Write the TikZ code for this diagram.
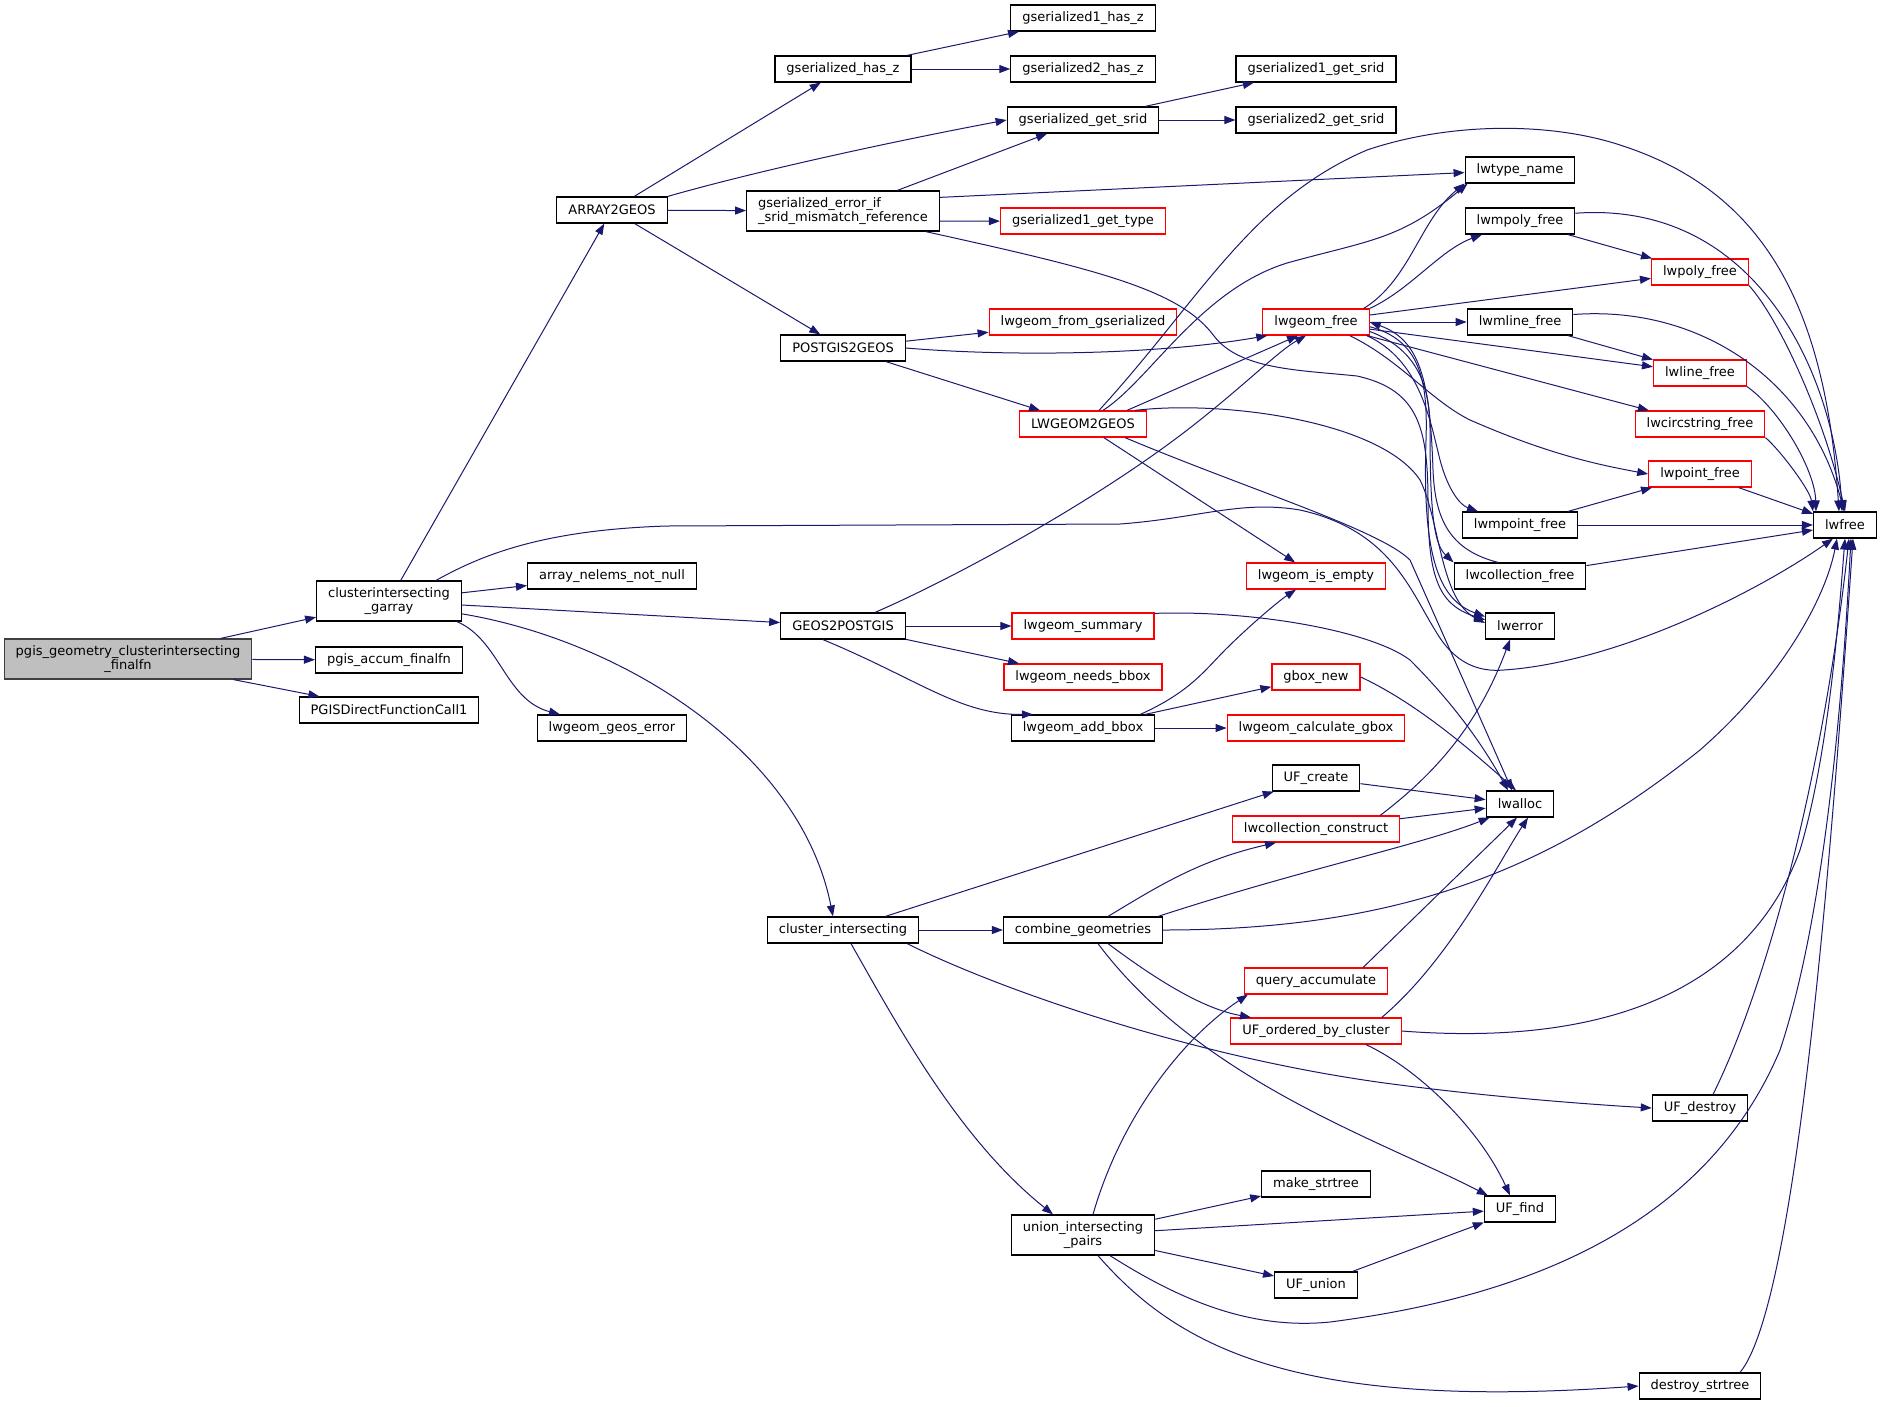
\documentclass[tikz,border=0pt]{standalone}
\usepackage{fontspec}
\setmainfont{DejaVu Sans}
\usepackage{tikz}
\usetikzlibrary{arrows.meta}
\definecolor{edgeblue}{RGB}{25,25,112}
\definecolor{rootgray}{RGB}{191,191,191}
\definecolor{rootline}{RGB}{64,64,64}
\definecolor{fnred}{RGB}{255,0,0}
\tikzset{
  fn/.style={draw=black, line width=1.2pt, fill=white, inner xsep=11.5pt, inner ysep=0pt,
    minimum height=26pt, font=\fontsize{13}{14.5}\selectfont, align=center},
  fnr/.style={fn, draw=fnred},
  fnroot/.style={fn, draw=rootline, fill=rootgray, minimum height=40pt},
  call/.style={draw=edgeblue, line width=1pt, -{Triangle[length=11pt,width=8pt]}},
}
\begin{document}
\begin{tikzpicture}[x=1pt,y=-1pt]
\useasboundingbox (0,0) rectangle (1881,1406);
% functions, column by column
\node[fnroot] (root) at (128,659) {pgis\_geometry\_clusterintersecting\\\_finalfn};
\node[fn,minimum height=40pt] (cig) at (389,601) {clusterintersecting\\\_garray};
\node[fn] (accum) at (389,660) {pgis\_accum\_finalfn};
\node[fn] (dfc) at (389,710) {PGISDirectFunctionCall1};
\node[fn] (a2g) at (612,210) {ARRAY2GEOS};
\node[fn] (nelems) at (612,576) {array\_nelems\_not\_null};
\node[fn] (geoserr) at (612,728) {lwgeom\_geos\_error};
\node[fn] (hasz) at (843,69) {gserialized\_has\_z};
\node[fn,minimum height=40pt,align=left] (srid) at (843,211) {gserialized\_error\_if\\\_srid\_mismatch\_reference};
\node[fn] (p2g) at (843,348) {POSTGIS2GEOS};
\node[fn] (g2p) at (843,626) {GEOS2POSTGIS};
\node[fn] (clint) at (843,930) {cluster\_intersecting};
\node[fn] (hasz1) at (1083,18) {gserialized1\_has\_z};
\node[fn] (hasz2) at (1083,69) {gserialized2\_has\_z};
\node[fn] (getsrid) at (1083,120) {gserialized\_get\_srid};
\node[fnr] (gettype) at (1083,221) {gserialized1\_get\_type};
\node[fnr] (fromgs) at (1083,322) {lwgeom\_from\_gserialized};
\node[fnr] (l2g) at (1083,424) {LWGEOM2GEOS};
\node[fnr] (summary) at (1083,626) {lwgeom\_summary};
\node[fnr] (needs) at (1083,677) {lwgeom\_needs\_bbox};
\node[fn] (addbbox) at (1083,728) {lwgeom\_add\_bbox};
\node[fn] (combine) at (1083,930) {combine\_geometries};
\node[fn,minimum height=40pt] (uip) at (1083,1235) {union\_intersecting\\\_pairs};
\node[fn] (srid1) at (1316,69) {gserialized1\_get\_srid};
\node[fn] (srid2) at (1316,120) {gserialized2\_get\_srid};
\node[fnr] (lwgfree) at (1316,322) {lwgeom\_free};
\node[fnr] (isempty) at (1316,576) {lwgeom\_is\_empty};
\node[fnr] (gbox) at (1316,677) {gbox\_new};
\node[fnr] (calcgbox) at (1316,728) {lwgeom\_calculate\_gbox};
\node[fn] (ufcreate) at (1316,778) {UF\_create};
\node[fnr] (collcon) at (1316,829) {lwcollection\_construct};
\node[fnr] (query) at (1316,981) {query\_accumulate};
\node[fnr] (ufordered) at (1316,1031) {UF\_ordered\_by\_cluster};
\node[fn] (mkstr) at (1316,1184) {make\_strtree};
\node[fn] (ufunion) at (1316,1285) {UF\_union};
\node[fn] (typename) at (1520,170) {lwtype\_name};
\node[fn] (mpoly) at (1520,221) {lwmpoly\_free};
\node[fn] (mline) at (1520,322) {lwmline\_free};
\node[fn] (mpoint) at (1520,525) {lwmpoint\_free};
\node[fn] (collfree) at (1520,576) {lwcollection\_free};
\node[fn] (lwerror) at (1520,626) {lwerror};
\node[fn] (lwalloc) at (1520,804) {lwalloc};
\node[fn] (uffind) at (1520,1209) {UF\_find};
\node[fnr] (lwpoly) at (1700,272) {lwpoly\_free};
\node[fnr] (lwline) at (1700,373) {lwline\_free};
\node[fnr] (circ) at (1700,424) {lwcircstring\_free};
\node[fnr] (lwpoint) at (1700,474) {lwpoint\_free};
\node[fn] (ufdestroy) at (1700,1108) {UF\_destroy};
\node[fn] (dstr) at (1700,1386) {destroy\_strtree};
\node[fn] (lwfree) at (1845,525) {lwfree};
% calls
\draw[call] (root) -- (cig);
\draw[call] (root) -- (accum);
\draw[call] (root) -- (dfc);
\draw[call] (cig) -- (a2g);
\draw[call] (cig) -- (nelems);
\draw[call] (cig) -- (g2p);
\draw[call] ([xshift=-5pt]cig.south east) .. controls (500,640) and (505,700) .. ([xshift=-52pt]geoserr.north);
\draw[call] (cig.-10) .. controls (620,640) and (800,750) .. ([xshift=-10pt]clint.north);
\draw[call] ([xshift=47pt]cig.north) .. controls (480,556) and (540,530) .. (667,526) -- (1120,524)
  .. controls (1200,518) and (1240,500) .. (1300,510) .. controls (1390,530) and (1410,590) .. (1435,630)
  .. controls (1455,665) and (1480,672) .. (1504,670) .. controls (1620,662) and (1760,590) .. ([xshift=-12pt]lwfree.south);
\draw[call] (a2g) -- (hasz);
\draw[call] (a2g.north east) .. controls (760,170) and (900,140) .. (getsrid.west);
\draw[call] (a2g) -- (srid);
\draw[call] (a2g) -- (p2g);
\draw[call] (hasz) -- (hasz1);
\draw[call] (hasz) -- (hasz2);
\draw[call] (getsrid) -- (srid1);
\draw[call] (getsrid) -- (srid2);
\draw[call] (srid) -- (getsrid);
\draw[call] (srid.8) -- (typename);
\draw[call] (srid.-6) -- (gettype);
\draw[call] (srid.-14) .. controls (1100,270) and (1180,290) .. (1214,336) .. controls (1240,370) and (1300,370) .. (1357,376)
  .. controls (1420,390) and (1428,430) .. (1428,504) .. controls (1428,580) and (1440,605) .. (lwerror.170);
\draw[call] (p2g) -- (fromgs);
\draw[call] (p2g.east) .. controls (1000,356) and (1150,356) .. ([xshift=5pt]lwgfree.south west);
\draw[call] (p2g) -- (l2g);
\draw[call] ([xshift=20pt]l2g.north) .. controls (1150,380) and (1200,290) .. (1287,263) .. controls (1370,240) and (1400,240) .. ([xshift=3pt]typename.south west);
\draw[call] ([xshift=16pt]l2g.north) .. controls (1200,300) and (1250,200) .. (1367,150) .. controls (1450,122) and (1550,122) .. (1620,145)
  .. controls (1760,190) and (1825,300) .. ([xshift=-6pt]lwfree.north);
\draw[call] ([xshift=-20pt]l2g.north east) -- ([xshift=-18pt]lwgfree.south);
\draw[call] (l2g) -- (isempty);
\draw[call] ([xshift=-12pt]l2g.north east) .. controls (1220,400) and (1380,420) .. (1420,480) .. controls (1440,520) and (1440,600) .. (lwerror.175);
\draw[call] ([xshift=-22pt]l2g.south east) .. controls (1250,490) and (1380,530) .. (1410,560) .. controls (1450,650) and (1490,740) .. ([xshift=-8pt]lwalloc.north);
\draw[call] ([xshift=32pt]g2p.north) .. controls (950,580) and (1100,500) .. (1200,420) .. controls (1250,380) and (1280,350) .. ([xshift=-10pt]lwgfree.south);
\draw[call] (g2p) -- (summary);
\draw[call] (g2p) -- (needs);
\draw[call] ([xshift=-20pt]g2p.south) .. controls (920,680) and (960,715) .. ([xshift=-50pt]addbbox.north);
\draw[call] (summary.10) .. controls (1250,610) and (1370,630) .. (1410,660) .. controls (1450,700) and (1480,740) .. ([xshift=-12pt]lwalloc.north);
\draw[call] ([xshift=-15pt]addbbox.north east) .. controls (1190,692) and (1205,670) .. (1225,650) .. controls (1250,625) and (1280,600) .. ([xshift=-20pt]isempty.south);
\draw[call] (addbbox) -- (gbox);
\draw[call] (addbbox) -- (calcgbox);
\draw[call] (gbox.east) .. controls (1410,700) and (1460,740) .. ([xshift=-4pt]lwalloc.north);
% lwgeom_free and its callees
\draw[call] ([xshift=-6pt]lwgfree.north east) .. controls (1410,280) and (1420,220) .. (typename.south west);
\draw[call] (lwgfree.north east) .. controls (1410,290) and (1440,250) .. ([xshift=-38pt]mpoly.south);
\draw[call] (lwgfree) -- (lwpoly);
\draw[call] (lwgfree) -- (mline);
\draw[call] (lwgfree) -- (lwline);
\draw[call] (lwgfree) -- (circ);
\draw[call] ([xshift=-20pt]lwgfree.south east) .. controls (1400,360) and (1430,400) .. (1470,420) .. controls (1550,455) and (1600,465) .. (lwpoint.west);
\draw[call] (lwgfree.-15) .. controls (1420,360) and (1430,420) .. (1440,460) .. controls (1448,490) and (1460,505) .. ([xshift=-42pt]mpoint.north);
\draw[call] (lwgfree.-10) .. controls (1420,350) and (1430,390) .. (1430,430) .. controls (1430,520) and (1435,545) .. (collfree.north west);
\draw[call] (lwgfree.-5) .. controls (1420,340) and (1428,380) .. (1426,440) .. controls (1422,560) and (1440,600) .. (lwerror.165);
\draw[call] ([xshift=-22pt]collfree.north) .. controls (1450,550) and (1435,520) .. (1433,470) .. controls (1430,380) and (1420,340) .. (lwgfree.east);
\draw[call] (mpoly) -- (lwpoly);
\draw[call] (mpoly.8) .. controls (1760,200) and (1835,380) .. ([xshift=-3pt]lwfree.north);
\draw[call] (lwpoly.south east) .. controls (1780,320) and (1825,420) .. (lwfree.north);
\draw[call] (mline) -- (lwline);
\draw[call] (mline.8) .. controls (1700,305) and (1810,380) .. ([xshift=-1pt]lwfree.north);
\draw[call] (lwline.south east) .. controls (1780,410) and (1815,470) .. ([xshift=3pt]lwfree.north west);
\draw[call] (circ.south east) .. controls (1780,450) and (1810,490) .. (lwfree.north west);
\draw[call] (lwpoint) -- (lwfree);
\draw[call] (mpoint) -- (lwpoint);
\draw[call] (mpoint) -- (lwfree);
\draw[call] (collfree) -- (lwfree);
% clustering
\draw[call] (clint) -- (ufcreate);
\draw[call] (clint) -- (combine);
\draw[call] ([xshift=-12pt]clint.south east) .. controls (1000,990) and (1200,1060) .. (1400,1085) .. controls (1500,1098) and (1600,1105) .. (ufdestroy.west);
\draw[call] ([xshift=8pt]clint.south) .. controls (900,1030) and (960,1140) .. ([xshift=-30pt]uip.north);
\draw[call] ([xshift=25pt]combine.north) .. controls (1160,885) and (1200,860) .. ([xshift=-40pt]collcon.south);
\draw[call] ([xshift=-5pt]combine.north east) .. controls (1300,870) and (1420,845) .. ([xshift=4pt]lwalloc.south west);
\draw[call] (combine.east) .. controls (1400,930) and (1550,870) .. (1700,750) .. controls (1780,680) and (1825,600) .. ([xshift=-8pt]lwfree.south);
\draw[call] ([xshift=25pt]combine.south) .. controls (1170,990) and (1210,1010) .. ([xshift=-65pt]ufordered.north);
\draw[call] ([xshift=15pt]combine.south) .. controls (1200,1080) and (1380,1140) .. ([xshift=4pt]uffind.north west);
\draw[call] (ufcreate) -- (lwalloc);
\draw[call] (collcon) -- (lwalloc);
\draw[call] ([xshift=-20pt]collcon.north east) .. controls (1440,770) and (1480,720) .. ([xshift=-10pt]lwerror.south);
\draw[call] ([xshift=-25pt]query.north east) -- ([xshift=-3pt]lwalloc.south);
\draw[call] ([xshift=-20pt]ufordered.north east) .. controls (1450,960) and (1500,860) .. ([xshift=8pt]lwalloc.south);
\draw[call] (ufordered.east) .. controls (1650,1050) and (1760,960) .. (1800,850) .. controls (1830,750) and (1840,600) .. (lwfree.south);
\draw[call] ([xshift=50pt]ufordered.south) .. controls (1420,1070) and (1480,1130) .. ([xshift=-10pt]uffind.north);
\draw[call] ([xshift=13pt]ufdestroy.north) .. controls (1760,1000) and (1820,800) .. ([xshift=4pt]lwfree.south);
\draw[call] ([xshift=10pt]uip.north) .. controls (1120,1120) and (1180,1040) .. ([xshift=4pt]query.south west);
\draw[call] (uip) -- (mkstr);
\draw[call] (uip) -- (uffind);
\draw[call] (uip) -- (ufunion);
\draw[call] ([xshift=27pt]uip.south) .. controls (1180,1300) and (1250,1330) .. (1330,1322) .. controls (1500,1300) and (1700,1240) .. (1780,1050)
  .. controls (1830,900) and (1845,650) .. ([xshift=6pt]lwfree.south);
\draw[call] ([xshift=15pt]uip.south) .. controls (1180,1350) and (1300,1410) .. (dstr.west);
\draw[call] (ufunion) -- (uffind);
\draw[call] ([xshift=40pt]dstr.north) .. controls (1800,1300) and (1835,800) .. ([xshift=8pt]lwfree.south);
\end{tikzpicture}
\end{document}
